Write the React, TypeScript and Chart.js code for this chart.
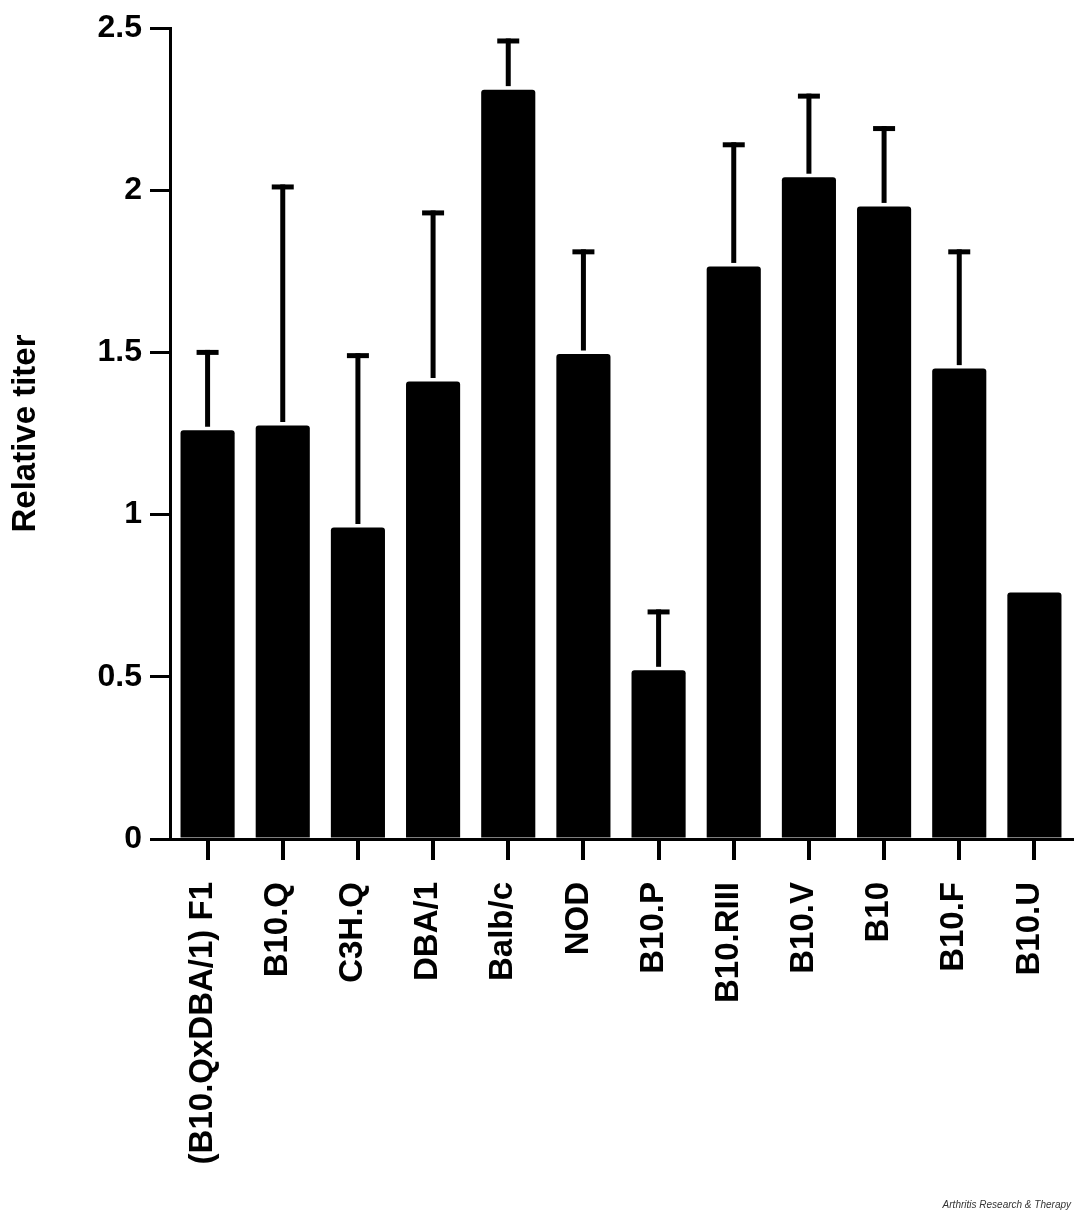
import React, { useEffect, useRef } from "react";
import { Chart, registerables } from "chart.js";

Chart.register(...registerables);

const strains = [
  "(B10.QxDBA/1) F1",
  "B10.Q",
  "C3H.Q",
  "DBA/1",
  "Balb/c",
  "NOD",
  "B10.P",
  "B10.RIII",
  "B10.V",
  "B10",
  "B10.F",
  "B10.U",
];
const relativeTiter = [1.26, 1.275, 0.96, 1.41, 2.31, 1.495, 0.52, 1.765, 2.04, 1.95, 1.45, 0.76];
const errorSD = [0.24, 0.735, 0.53, 0.52, 0.15, 0.315, 0.18, 0.375, 0.25, 0.24, 0.36, 0];
const yTicks = [0, 0.5, 1, 1.5, 2, 2.5];

const FONT = '"Liberation Sans", Arial, Helvetica, sans-serif';

const errorBarPlugin = {
  id: "errorBars",
  afterDatasetsDraw(chart: any) {
    const meta = chart.getDatasetMeta(0);
    const yScale = chart.scales.y;
    const ctx = chart.ctx;
    ctx.save();
    ctx.strokeStyle = "#000";
    ctx.lineWidth = 5;
    ctx.lineCap = "butt";
    meta.data.forEach((el: any, i: number) => {
      const err = errorSD[i];
      if (!err) return;
      const yTop = yScale.getPixelForValue(relativeTiter[i] + err);
      const yBar = el.y - 3.5;
      ctx.beginPath();
      ctx.moveTo(el.x, yBar);
      ctx.lineTo(el.x, yTop - 2.5);
      ctx.stroke();
      ctx.beginPath();
      ctx.moveTo(el.x - 11, yTop);
      ctx.lineTo(el.x + 11, yTop);
      ctx.stroke();
    });
    ctx.restore();
  },
  afterDraw(chart: any) {
    const ctx = chart.ctx;
    ctx.save();
    ctx.fillStyle = "#333";
    ctx.font = `italic 10px ${FONT}`;
    ctx.textAlign = "right";
    ctx.textBaseline = "alphabetic";
    ctx.fillText("Arthritis Research & Therapy", 1071, 1208);
    ctx.restore();
  },
};

export default function App() {
  const ref = useRef<HTMLCanvasElement>(null);
  useEffect(() => {
    document.body.style.margin = "0";
    document.body.style.overflow = "hidden";
    if (!ref.current) return;
    const chart = new Chart(ref.current, {
      type: "bar",
      data: {
        labels: strains,
        datasets: [
          {
            data: relativeTiter,
            backgroundColor: "#000",
            borderWidth: 0,
            borderRadius: 3,
            borderSkipped: "bottom",
            categoryPercentage: 1,
            barPercentage: 0.72,
          },
        ],
      },
      options: {
        responsive: false,
        animation: false,
        layout: { padding: { top: 28, right: 2, left: 0, bottom: 0 } },
        plugins: {
          legend: { display: false },
          tooltip: { enabled: false },
        },
        scales: {
          x: {
            offset: true,
            grid: {
              offset: false,
              drawOnChartArea: false,
              drawTicks: true,
              tickLength: 21,
              lineWidth: 4,
              color: "#000",
            },
            border: { display: true, width: 3, color: "#000" },
            ticks: {
              maxRotation: 90,
              minRotation: 90,
              autoSkip: false,
              padding: 22,
              labelOffset: -5,
              color: "#000",
              font: { family: FONT, size: 33, weight: "bold" },
            },
            afterFit(scale: any) {
              scale.height = 372;
              scale.paddingLeft = 0;
              scale.paddingRight = 0;
            },
          },
          y: {
            min: 0,
            max: 2.5,
            afterBuildTicks(scale: any) {
              scale.ticks = yTicks.map((v) => ({ value: v }));
            },
            grid: {
              drawOnChartArea: false,
              drawTicks: true,
              tickLength: 20,
              lineWidth: 3,
              color: "#000",
            },
            border: { display: true, width: 3, color: "#000" },
            ticks: {
              padding: 8,
              color: "#000",
              font: { family: FONT, size: 32, weight: "bold" },
              callback: (v: any) => String(v),
            },
            title: {
              display: true,
              text: "Relative titer",
              color: "#000",
              font: { family: FONT, size: 33, weight: "bold" },
              padding: { top: 6, bottom: 0 },
            },
            afterFit(scale: any) {
              scale.width = 170;
              scale.paddingTop = 0;
              scale.paddingBottom = 0;
            },
          },
        },
      },
      plugins: [errorBarPlugin],
    } as any);
    return () => chart.destroy();
  }, []);
  return (
    <div style={{ width: 1074, height: 1211, background: "#fff" }}>
      <canvas ref={ref} width={1074} height={1211} style={{ display: "block" }} />
    </div>
  );
}
